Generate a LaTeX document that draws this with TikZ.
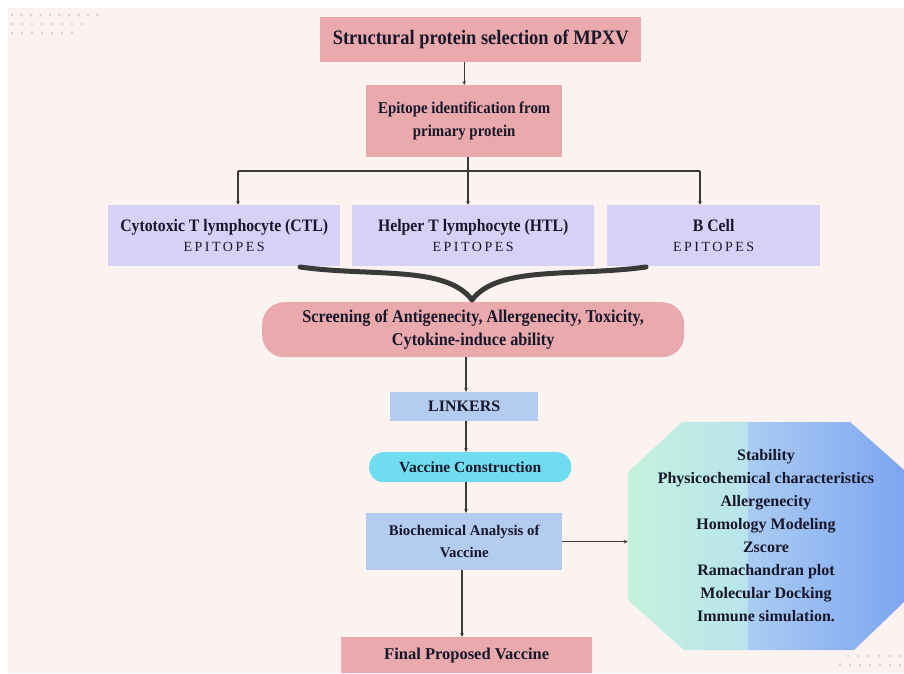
\documentclass[tikz,border=0pt]{standalone}
\usepackage{fontspec}
\setmainfont{Liberation Serif}
\newfontfamily\condf[FakeStretch=0.9]{Liberation Serif}
\newfontfamily\spacedf[LetterSpace=18]{Liberation Serif}
\usetikzlibrary{arrows.meta}
\definecolor{bgc}{HTML}{FCF3F1}
\definecolor{pinkc}{HTML}{EAA9AC}
\definecolor{lavc}{HTML}{D7D1F7}
\definecolor{bluec}{HTML}{B5CCF1}
\definecolor{cyanc}{HTML}{6FDCEF}
\definecolor{txtc}{HTML}{17172A}
\definecolor{linec}{HTML}{3A3A3A}
\definecolor{dotc}{HTML}{D9D0D0}
\definecolor{mintc}{HTML}{C3F2DD}
\definecolor{mintb}{HTML}{B9E4EC}
\definecolor{octa}{HTML}{AACCF3}
\definecolor{octb}{HTML}{7EA5F0}
\tikzset{
  box/.style={rectangle, inner sep=0pt, align=center, text=txtc, anchor=north west},
  pinkbox/.style={box, fill=pinkc},
  lavbox/.style={box, fill=lavc, font=\fontsize{14}{20}\selectfont},
  bluebox/.style={box, fill=bluec},
  conn/.style={draw=linec, line width=1.1pt},
  arr/.style={conn, -{Stealth[length=4pt,width=3.5pt]}},
  bracestyle/.style={draw=linec, line width=5pt, line cap=round, line join=round},
  dotstyle/.style={fill=dotc, draw=none}
}
\newcommand{\condtxt}[1]{{\condf\bfseries\fontsize{17.5}{20}\selectfont #1}}
\newcommand{\epit}{{\spacedf\fontsize{14}{16}\selectfont EPITOPES}}
\begin{document}
\begin{tikzpicture}[x=1pt,y=-1pt]
\useasboundingbox (0,0) rectangle (904,673);
\fill[white] (0,0) rectangle (904,673);
\fill[bgc] (8,8) rectangle (904,673);
% decorative dots
\foreach \i in {0,...,9} \fill[dotstyle] (12+9.5*\i,15) circle (1.4);
\foreach \i in {0,...,7} \fill[dotstyle] (12+10*\i,24) circle (1.4);
\foreach \i in {0,...,6} \fill[dotstyle] (12+10*\i,33) circle (1.4);
\foreach \i in {0,...,5} \fill[dotstyle] (848+10.4*\i,656) circle (1.4);
\foreach \i in {0,...,6} \fill[dotstyle] (840+10*\i,665) circle (1.4);

% boxes
\node[pinkbox, minimum width=321pt, minimum height=45pt] (title) at (320,17)
  {{\condf\bfseries\fontsize{20.5}{24}\selectfont Structural protein selection of MPXV}};
\node[pinkbox, minimum width=196pt, minimum height=72pt, font=\condf\bfseries\fontsize{16.5}{23}\selectfont] (epi) at (366,85)
  {Epitope identification from\\primary protein};
\node[lavbox, minimum width=232pt, minimum height=61pt] (ctl) at (108,205)
  {\condtxt{Cytotoxic T lymphocyte (CTL)}\\\epit};
\node[lavbox, minimum width=242pt, minimum height=61pt] (htl) at (352,205)
  {\condtxt{Helper T lymphocyte (HTL)}\\\epit};
\node[lavbox, minimum width=213pt, minimum height=61pt] (bcell) at (607,205)
  {\condtxt{B Cell}\\\epit};
\node[pinkbox, rounded corners=22pt, minimum width=422pt, minimum height=55pt, font=\condf\bfseries\fontsize{18}{23}\selectfont] (scr) at (262,302)
  {Screening of Antigenecity, Allergenecity, Toxicity,\\Cytokine-induce ability};
\node[bluebox, minimum width=148pt, minimum height=29pt, font=\bfseries\fontsize{16}{20}\selectfont] (link) at (390,392) {LINKERS};
\node[box, fill=cyanc, rounded corners=14pt, minimum width=202pt, minimum height=30pt, font=\bfseries\fontsize{15.5}{20}\selectfont] (vc) at (369,452) {Vaccine Construction};
\node[bluebox, minimum width=196pt, minimum height=57pt, font=\bfseries\fontsize{14.8}{22}\selectfont] (bio) at (366,513) {Biochemical Analysis of\\Vaccine};
\node[pinkbox, minimum width=251pt, minimum height=36pt, font=\bfseries\fontsize{16.5}{20}\selectfont] (fin) at (341,637) {Final Proposed Vaccine};

% octagon
\begin{scope}
\clip (682,422) -- (850,422) -- (904,470) -- (904,602) -- (854,650) -- (684,650) -- (628,600) -- (628,472) -- cycle;
\shade[left color=mintc, right color=mintb] (628,422) rectangle (748,650);
\shade[left color=octa, right color=octb] (748,422) rectangle (904,650);
\end{scope}
\node[rectangle, inner sep=0pt, align=center, text=txtc, minimum width=276pt, minimum height=228pt, font=\bfseries\fontsize{16}{23}\selectfont] (oct) at (766,536)
  {Stability\\Physicochemical characteristics\\Allergenecity\\Homology Modeling\\Zscore\\Ramachandran plot\\Molecular Docking\\Immune simulation.};

% connectors
\draw[arr] (epi.north |- title.south) -- (epi.north);
\coordinate (hub) at (468,171);
\coordinate (hl) at (238,171);
\coordinate (hr) at (700,171);
\draw[conn] (epi.south -| hub) -- (hub);
\draw[conn] (hl) -- (hr);
\draw[arr] (hl) -- (hl |- ctl.north);
\draw[arr] (hub) -- (hub |- htl.north);
\draw[arr] (hr) -- (hr |- bcell.north);
% brace
\coordinate (brl) at (300,267);
\coordinate (brt) at (472,300);
\coordinate (brr) at (646,267);
\draw[bracestyle] (brl) .. controls (372,277) and (446,265) .. (brt) .. controls (498,265) and (574,277) .. (brr);
\coordinate (sx) at (466,0);
\draw[arr] (scr.south -| sx) -- (link.north -| sx);
\draw[arr] (link.south -| sx) -- (vc.north -| sx);
\draw[arr] (vc.south -| sx) -- (bio.north -| sx);
\coordinate (fx) at (462,0);
\draw[arr] (bio.south -| fx) -- (fin.north -| fx);
\draw[arr] (bio.east) -- (bio.east -| oct.west);
\end{tikzpicture}
\end{document}
